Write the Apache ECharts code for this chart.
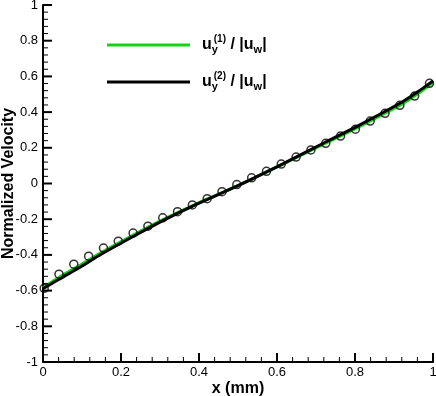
<!DOCTYPE html>
<html>
<head>
<meta charset="utf-8">
<script src="https://cdn.jsdelivr.net/npm/echarts@6/dist/echarts.min.js"></script>
<style>
  html, body { margin: 0; padding: 0; background: #fff; }
  #main { width: 436px; height: 396px; }
</style>
</head>
<body>
<div id="main"></div>
<script>
  // 曲线数据 (x in mm)
  const lineX = [0, 0.04, 0.1, 0.15, 0.23, 0.31, 0.385, 0.5, 0.615, 0.73, 0.81, 0.885, 0.925, 0.96, 1.0];
  const uy1 = [-0.585, -0.527, -0.451, -0.386, -0.29, -0.2, -0.122, -0.012, 0.108, 0.232, 0.317, 0.403, 0.451, 0.501, 0.566];
  const uy2 = [-0.59, -0.538, -0.462, -0.395, -0.298, -0.205, -0.125, -0.012, 0.11, 0.238, 0.326, 0.413, 0.462, 0.512, 0.575];

  // 圆圈点
  const dotX = [0.003, 0.041, 0.079, 0.117, 0.155, 0.193, 0.231, 0.269, 0.307, 0.345, 0.383, 0.421, 0.459, 0.497,
    0.535, 0.573, 0.611, 0.649, 0.687, 0.725, 0.763, 0.801, 0.839, 0.877, 0.915, 0.953, 0.991];
  const dotY = [-0.587, -0.508, -0.452, -0.407, -0.362, -0.323, -0.278, -0.239, -0.192, -0.158, -0.12, -0.085, -0.046, -0.006,
    0.032, 0.068, 0.109, 0.148, 0.188, 0.225, 0.266, 0.304, 0.35, 0.393, 0.438, 0.49, 0.561];

  const names = ["uy1", "uy2"];
  const font = "Liberation Sans, Arial, Helvetica, sans-serif";

  function pairs(xs, ys) {
    return xs.map(function(x, i) { return [x, ys[i]]; });
  }

  // 朝里的刻度 (每 0.04 一个, 每 0.2 一个大刻度)
  const ticks = [];
  for (let i = 0; i <= 25; i++) ticks.push([+(i * 0.04).toFixed(2), 0, i % 5 === 0 ? 1 : 0]);
  for (let i = 0; i <= 50; i++) ticks.push([+(-1 + i * 0.04).toFixed(2), 1, i % 5 === 0 ? 1 : 0]);

  function renderTick(params, api) {
    const v = api.value(0);
    const isY = api.value(1) === 1;
    const major = api.value(2) === 1;
    const len = major ? 9 : 5;
    let p, q;
    if (isY) {
      p = api.coord([0, v]);
      q = [p[0] + len, p[1]];
    } else {
      p = api.coord([v, -1]);
      q = [p[0], p[1] - len];
    }
    return {
      type: "line",
      shape: { x1: p[0], y1: p[1], x2: q[0], y2: q[1] },
      style: { stroke: "#000", lineWidth: major ? 2 : 1 }
    };
  }

  const chart = echarts.init(document.getElementById("main"));

  const nameStyle = { color: "#000", fontSize: 16, fontWeight: "bold", fontFamily: font };
  const fmt = function(v) { return String(+v.toFixed(1)); };

  const option = {
    animation: false,
    backgroundColor: "#fff",
    grid: { show: false, left: 43, right: 3, top: 5, bottom: 34, outerBoundsMode: "none" },
    xAxis: {
      type: "value",
      min: 0,
      max: 1,
      interval: 0.2,
      name: "x (mm)",
      nameLocation: "middle",
      nameGap: 19,
      nameMoveOverlap: false,
      nameTextStyle: nameStyle,
      splitLine: { show: false },
      axisLine: { show: true, onZero: false, lineStyle: { color: "#000", width: 2 } },
      axisTick: { show: false },
      axisLabel: { color: "#000", fontSize: 13, fontFamily: font, margin: 4, formatter: fmt }
    },
    yAxis: {
      type: "value",
      min: -1,
      max: 1,
      interval: 0.2,
      name: "Normalized Velocity",
      nameLocation: "middle",
      nameGap: 26,
      nameMoveOverlap: false,
      nameTextStyle: nameStyle,
      splitLine: { show: false },
      axisLine: { show: true, onZero: false, lineStyle: { color: "#000", width: 2 } },
      axisTick: { show: false },
      axisLabel: { color: "#000", fontSize: 13, fontFamily: font, margin: 5, formatter: fmt }
    },
    legend: {
      data: names,
      orient: "vertical",
      left: 102,
      top: 29,
      itemWidth: 83,
      itemHeight: 3,
      itemGap: 16,
      icon: "rect",
      selectedMode: false,
      formatter: function(name) {
        const n = name === "uy1" ? "1" : "2";
        return "{u|u}{sub|y}{sup|(" + n + ")}{u| / |u}{subw|w}{u||}";
      },
      textStyle: {
        rich: {
          u: { fontSize: 16, fontWeight: "bold", fontFamily: font, color: "#000", lineHeight: 26 },
          sub: { fontSize: 11, fontWeight: "bold", fontFamily: font, color: "#000", verticalAlign: "bottom", width: 2, padding: [0, 0, 3, 0] },
          sup: { fontSize: 10, fontWeight: "bold", fontFamily: font, color: "#000", verticalAlign: "top", padding: [2, 0, 0, 0] },
          subw: { fontSize: 11, fontWeight: "bold", fontFamily: font, color: "#000", verticalAlign: "bottom", padding: [0, 0, 3, 0] }
        },
        padding: [0, 0, 0, 7]
      }
    },
    series: [
      {
        name: "ticks",
        type: "custom",
        coordinateSystem: "cartesian2d",
        data: ticks,
        renderItem: renderTick,
        clip: false,
        silent: true,
        zlevel: 1,
        z: 100
      },
      {
        name: "uy1",
        type: "line",
        data: pairs(lineX, uy1),
        smooth: 0.3,
        showSymbol: false,
        lineStyle: { color: "#14d214", width: 3 },
        itemStyle: { color: "#14d214" }
      },
      {
        name: "uy2",
        type: "line",
        data: pairs(lineX, uy2),
        smooth: 0.3,
        showSymbol: false,
        lineStyle: { color: "#000", width: 3 },
        itemStyle: { color: "#000" }
      },
      {
        name: "dots",
        type: "scatter",
        data: pairs(dotX, dotY),
        symbol: "circle",
        symbolSize: 8,
        itemStyle: { color: "rgba(0,0,0,0)", borderColor: "#000", borderWidth: 1.5 },
        z: 5
      }
    ]
  };

  chart.setOption(option);
</script>
</body>
</html>
